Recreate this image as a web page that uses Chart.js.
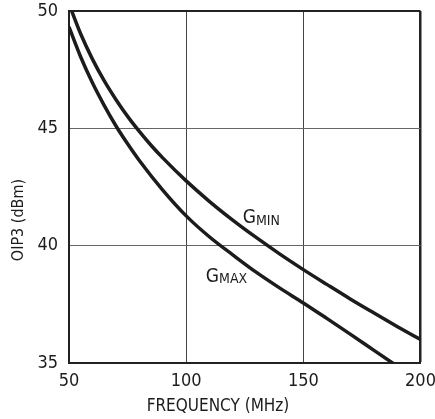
<!DOCTYPE html>
<html>
<head>
<meta charset="utf-8">
<script src="https://cdn.jsdelivr.net/npm/chart.js@4"></script>
<style>
  html, body { margin: 0; padding: 0; background: #fff; }
  #wrap { width: 435px; height: 419px; }
</style>
</head>
<body>
<div id="wrap"><canvas id="oip3Chart" width="435" height="419"></canvas></div>
<script>
const FONT = "'Liberation Sans Narrow', 'DejaVu Sans Condensed', 'Liberation Sans', sans-serif";
const INK = "#1c1c1c";

// frequency (MHz) and OIP3 (dBm)
const freqMin = [50, 55, 60, 65, 70, 75, 80, 85, 90, 100, 110, 120, 130, 140, 150, 160, 170, 180, 190, 200];
const oip3Min = [50.3, 49.02, 47.95, 47.03, 46.23, 45.51, 44.87, 44.28, 43.74, 42.76, 41.88, 41.08, 40.34, 39.64, 38.98, 38.35, 37.73, 37.14, 36.56, 36.0];

const freqMax = [50, 55, 60, 65, 70, 75, 80, 90, 100, 110, 120, 130, 140, 150, 160, 170, 180, 190];
const oip3Max = [49.32, 48.04, 46.94, 45.98, 45.11, 44.34, 43.63, 42.37, 41.27, 40.37, 39.6, 38.86, 38.19, 37.56, 36.9, 36.23, 35.55, 34.87];

const xTicks = [50, 100, 150, 200];
const yTicks = [35, 40, 45, 50];

// curve labels: [x (MHz), y baseline (dBm), main, subscript, subscript drop]
const curveLabels = [
  [124.1, 40.98, "G", "MIN", 2],
  [108.4, 38.47, "G", "MAX", 1]
];

const toPoints = (xs, ys) => xs.map((x, i) => ({ x: x, y: ys[i] }));

// labels and axis titles drawn on top
const textPlugin = {
  id: "textPlugin",
  afterDraw: (chart) => {
    const c = chart.ctx;
    const xs = chart.scales.x;
    const ys = chart.scales.y;
    c.save();
    c.fillStyle = INK;
    c.textBaseline = "alphabetic";
    c.textAlign = "left";
    curveLabels.forEach(([lx, ly, main, sub, drop]) => {
      const px = xs.getPixelForValue(lx);
      const py = ys.getPixelForValue(ly);
      c.font = `19px ${FONT}`;
      c.fillText(main, px, py);
      const w = c.measureText(main).width;
      c.font = `14px ${FONT}`;
      c.fillText(sub, px + w, py + drop);
    });

    c.font = `17px ${FONT}`;
    c.textAlign = "center";
    c.textBaseline = "middle";
    c.fillText("FREQUENCY (MHz)", 218, 407);

    c.font = `16px ${FONT}`;
    c.translate(19, 220);
    c.rotate(-Math.PI / 2);
    c.fillText("OIP3 (dBm)", 0, 0);
    c.restore();
  }
};

const lineStyle = {
  showLine: true,
  borderColor: INK,
  borderWidth: 3.5,
  pointRadius: 0,
  clip: 0,
  cubicInterpolationMode: "monotone"
};

new Chart(document.getElementById("oip3Chart").getContext("2d"), {
  type: "scatter",
  data: {
    datasets: [
      Object.assign({ label: "GMIN", data: toPoints(freqMin, oip3Min) }, lineStyle),
      Object.assign({ label: "GMAX", data: toPoints(freqMax, oip3Max) }, lineStyle)
    ]
  },
  options: {
    responsive: false,
    animation: false,
    layout: { padding: { top: 11, right: 14.5, left: 0, bottom: 0 } },
    plugins: {
      legend: { display: false },
      tooltip: { enabled: false }
    },
    scales: {
      x: {
        type: "linear",
        min: 50,
        max: 200,
        afterFit: (s) => { s.height = 56; s.paddingLeft = 0; s.paddingRight = 0; },
        afterBuildTicks: (s) => { s.ticks = xTicks.map(v => ({ value: v })); },
        ticks: {
          padding: 8,
          color: INK,
          font: { family: FONT, size: 18 }
        },
        grid: {
          drawTicks: false,
          color: (ctx) => (ctx.tick && ctx.tick.value === 200 ? "#222" : "#444"),
          lineWidth: (ctx) => (ctx.tick && ctx.tick.value === 200 ? 2.5 : 1)
        },
        border: { color: "#222", width: 2 }
      },
      y: {
        type: "linear",
        min: 35,
        max: 50,
        afterFit: (s) => { s.width = 69; s.paddingTop = 0; s.paddingBottom = 0; },
        afterBuildTicks: (s) => { s.ticks = yTicks.map(v => ({ value: v })); },
        ticks: {
          padding: 11,
          color: INK,
          font: { family: FONT, size: 18 }
        },
        grid: {
          drawTicks: false,
          color: (ctx) => (ctx.tick && ctx.tick.value === 50 ? "#222" : "#666"),
          lineWidth: (ctx) => (ctx.tick && ctx.tick.value === 50 ? 2 : 1)
        },
        border: { color: "#222", width: 2 }
      }
    }
  },
  plugins: [textPlugin]
});
</script>
</body>
</html>
